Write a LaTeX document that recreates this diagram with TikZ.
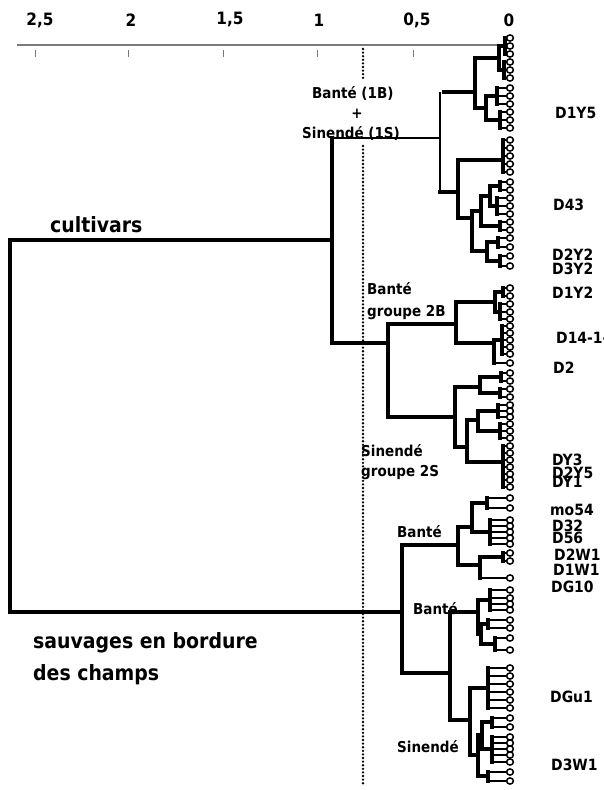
\documentclass[tikz,border=0pt]{standalone}
\usepackage{fontspec}
\setmainfont{DejaVu Sans Condensed}
\usepackage{tikz}
\usetikzlibrary{positioning}
\definecolor{axisgrey}{HTML}{7A7A7A}
\tikzset{
  dg/.style={line width=3.3pt, line join=miter, line cap=rect},
  dg thin/.style={line width=1.8pt},
  dg stub/.style={line width=2.2pt},
  dg leaf/.style={line width=1.5pt, fill=white},
  dg tick/.style={axisgrey, line width=0.9pt},
  dg num/.style={font=\fontsize{17}{19}\selectfont\bfseries, inner sep=0pt},
  dg acc/.style={font=\fontsize{15.5}{17}\selectfont\bfseries, inner sep=0pt, anchor=west},
  dg grp/.style={font=\fontsize{15}{17}\selectfont\bfseries, inner sep=0pt, anchor=base west},
  dg big/.style={font=\fontsize{21}{25}\selectfont\bfseries, inner sep=0pt, anchor=base west},
}

\begin{document}
\begin{tikzpicture}[x=1pt, y=-1pt,
  dots/.style={line width=2.6pt, line cap=round, dash pattern=on 0pt off 3.6pt}]
  \useasboundingbox (0,0) rectangle (603,790);
  % scale
  \draw[axisgrey, line width=1.2pt] (17,45) -- (505,45);
  \foreach \x/\lx/\t in {35/40/{2,5}, 128/131/2, 223/230/{1,5}, 317/319/1, 413/417/{0,5}} {
    \draw[dg tick] (\x,50) -- (\x,57);
    \node[dg num] (ax\x) at (\lx,20) {\t};
  }
  \node[dg num] (ax0) at (509,20) {0};
  % cut level
  \draw[dots] (363,49) -- (363,78) (363,146) -- (363,785);
  % leaf groups: bar x / top / bottom / leaves
  \foreach \x/\a/\b/\ys in {
      505/38/54/{38,46,54}, 504/62/78/{62,70,78},
      497/88/104/{88,96,104}, 500/112/128/{112,120,128},
      503/140/172/{140,148,156,164,172},
      500/182/190/{182,190}, 497/198/214/{198,206,214}, 500/222/230/{222,230},
      498/238/247/{238,247}, 500/256/266/{256,266},
      503/288/296/{288,296}, 500/304/319/{304,312,319},
      502/326/354/{326,333,340,347,354}, 494/363/363/{363},
      501/373/381/{373,381}, 500/389/397/{389,397},
      498/405/417/{405,411,417}, 500/424/438/{424,431,438},
      503/446/487/{446,453,460,467,474,480,487},
      487/498/508/{498,508}, 490/520/544/{520,526,532,538,544},
      503/553/561/{553,561}, 480/578/578/{578},
      490/590/610/{590,598,604,610}, 488/620/628/{620,628}, 495/638/650/{638,650},
      488/668/708/{668,676,684,692,700,708}, 492/718/727/{718,727},
      492/737/762/{737,743,749,755,762}, 488/772/781/{772,781}} {
    \draw[dg] (\x,\a) -- (\x,\b);
    \foreach \y in \ys {
      \draw[dg stub] (\x,\y) -- (507,\y);
      \draw[dg leaf] (510,\y) ellipse (3.4 and 3.1);
    }
  }
  % merges: child a x/y, merge x, child b x/y
  \foreach \xa/\ya/\x/\xb/\yb in {
      505/46/499/504/70, 497/96/486/500/120, 499/58/475/486/108,
      500/186/490/497/206, 490/196/481/500/226, 498/242/487/500/261,
      481/211/472/487/251, 503/160/458/472/218,
      503/292/495/500/312, 502/340/494/494/363, 495/302/456/494/343,
      501/377/480/500/393, 498/411/478/500/431, 478/420/467/503/462,
      480/387/455/467/447, 456/324/388/455/417,
      487/503/472/490/532, 503/557/480/480/578, 472/527/458/480/565,
      488/624/481/495/644, 490/600/478/481/634,
      492/722/482/492/749, 482/735/478/488/776, 488/688/470/478/755,
      478/612/450/470/720, 458/545/402/450/673} {
    \draw[dg] (\xa,\ya) -| (\x,\yb) -- (\xb,\yb);
  }
  \draw[dg] (475,92) -- (444,92);
  \draw[dg thin] (440,92) -- (440,192);
  \draw[dg] (440,192) -- (458,192);
  \draw[dg thin] (440,138) -- (332,138);
  \draw[dg] (332,138) -- (332,343) -- (388,343);
  \draw[dg, line width=3.6pt] (332,240) -| (10,612) -- (402,612);
  % group names
  \node[dg big] (cult) at (50,232) {cultivars};
  \node[dg big] (sauv1) at (33,648) {sauvages en bordure};
  \node[dg big] (sauv2) at (33,680) {des champs};
  \node[dg grp] (g1b) at (312,98) {Banté (1B)};
  \node[dg grp, anchor=base] (gplus) at (357,118) {+};
  \node[dg grp] (g1s) at (302,138) {Sinendé (1S)};
  \node[dg grp] (g2b) at (367,294) {Banté};
  \node[dg grp] (g2b2) at (367,316) {groupe 2B};
  \node[dg grp] (g2s) at (361,456) {Sinendé};
  \node[dg grp] (g2s2) at (361,476) {groupe 2S};
  \node[dg grp] (wb1) at (397,537) {Banté};
  \node[dg grp] (wb2) at (413,614) {Banté};
  \node[dg grp] (ws) at (397,752) {Sinendé};
  % accessions
  \foreach \y/\x/\t [count=\i] in {113/555/D1Y5, 205/553/D43, 255/552/D2Y2, 269/552/D3Y2,
      293/552/D1Y2, 338/556/D14-1-, 368/553/D2, 460/552/DY3, 473/552/D2Y5, 482/552/DY1,
      510/550/mo54, 526/552/D32, 538/552/D56, 555/554/D2W1, 570/553/D1W1, 587/551/DG10,
      697/550/DGu1, 765/551/D3W1}
    \node[dg acc] (acc\i) at (\x,\y) {\t};
\end{tikzpicture}
\end{document}
